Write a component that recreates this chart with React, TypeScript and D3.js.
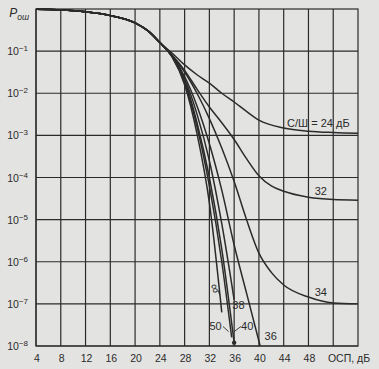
import * as d3 from 'd3';

interface Pt {
  osp: number;
  p: number;
}

// common start of all curves (ОСП, дБ -> Pош)
const COMMON: [number, number][] = [
  [4, 0.98],
  [8, 0.95],
  [12, 0.86],
  [16, 0.7],
  [20, 0.47],
  [22, 0.31],
  [24, 0.16],
];

const SNR_LABELS = ['24', '32', '34', '36', '38', '40', '50', '∞'];

const TAILS: [number, number][][] = [
  // 24 dB
  [[26, 0.089], [28, 0.047], [30, 0.0275], [32, 0.0174], [34, 0.01], [36, 0.0062], [38, 0.0037], [40, 0.0023], [44, 0.0015], [48, 0.00126], [52, 0.00117], [56, 0.00112]],
  // 32 dB
  [[26, 0.08], [28, 0.035], [30, 0.0125], [32, 0.0047], [34, 0.002], [36, 0.0008], [38, 0.00028], [40, 0.00011], [42, 6.3e-5], [44, 4.7e-5], [48, 3.4e-5], [52, 3e-5], [56, 2.9e-5]],
  // 34 dB
  [[26, 0.078], [28, 0.032], [30, 0.01], [32, 0.0025], [34, 0.0005], [36, 8e-5], [38, 1e-5], [40, 1.6e-6], [42, 5.6e-7], [44, 2.8e-7], [48, 1.45e-7], [52, 1.05e-7], [56, 1e-7]],
  // 36 dB
  [[26, 0.076], [28, 0.025], [30, 0.005], [32, 6.3e-4], [34, 5e-5], [36, 2.5e-6], [38, 1.8e-7], [40.2, 1e-8]],
  // 38 dB
  [[26, 0.075], [28, 0.022], [30, 0.0032], [32, 2.5e-4], [34, 8e-6], [36, 1.25e-7]],
  // 40 dB
  [[26, 0.074], [28, 0.02], [30, 0.002], [32, 1e-4], [34, 2e-6], [36, 1.2e-8]],
  // 50 dB
  [[26, 0.073], [28, 0.018], [30, 0.0016], [32, 6.3e-5], [34, 1e-6], [35.6, 1.6e-8]],
  // infinity
  [[26, 0.072], [28, 0.016], [30, 0.0011], [32, 2.5e-5], [34, 6.3e-8]],
];

const X_TICKS = [4, 8, 12, 16, 20, 24, 28, 32, 36, 40, 44, 48];
const Y_EXPONENTS = [-1, -2, -3, -4, -5, -6, -7, -8];

// curve labels, anchored in data units
const LABELS: { text: string; osp: number; p: number }[] = [
  { text: 'С/Ш = 24 дБ', osp: 49.6, p: 1.6e-3 },
  { text: '32', osp: 50, p: 3.8e-5 },
  { text: '34', osp: 50, p: 1.5e-7 },
  { text: '36', osp: 41.9, p: 1.4e-8 },
  { text: '38', osp: 36.7, p: 7.4e-8 },
  { text: '40', osp: 38.1, p: 2.4e-8 },
  { text: '50', osp: 33, p: 2.4e-8 },
];

const LEADERS: [Pt, Pt][] = [
  [{ osp: 34.2, p: 2.9e-8 }, { osp: 35.1, p: 2.2e-8 }],
  [{ osp: 37.1, p: 2.9e-8 }, { osp: 36.0, p: 2.2e-8 }],
  [{ osp: 33.4, p: 2.1e-7 }, { osp: 33.7, p: 1.6e-7 }],
];

const W = 379;
const H = 369;
const FONT = "'Liberation Sans', Arial, sans-serif";
const INK = '#2b2b2b';

export default function App() {
  const x = d3.scaleLinear().domain([4, 56]).range([36, 358]);
  const y = d3.scaleLog().domain([1e-8, 1]).range([346, 9]);

  const curves: Pt[][] = TAILS.map((tail) =>
    [...COMMON, ...tail].map(([osp, p]) => ({ osp, p }))
  );

  const line = d3
    .line<Pt>()
    .x((d) => x(d.osp))
    .y((d) => y(d.p))
    .curve(d3.curveMonotoneX);

  const end40 = curves[5][curves[5].length - 1];
  const infLabel = { osp: 32.8, p: 2.3e-7 };

  return (
    <div style={{ position: 'fixed', left: 0, top: 0, width: W, height: H, background: '#e3e3e1' }}>
      <svg width={W} height={H} style={{ display: 'block' }}>
        {/* grid */}
        <g stroke={INK} strokeWidth={1.2}>
          {X_TICKS.concat([52]).map((t) => (
            <line key={'gx' + t} x1={x(t)} x2={x(t)} y1={y(1)} y2={y(1e-8)} />
          ))}
          {Y_EXPONENTS.map((e) => (
            <line key={'gy' + e} x1={x(4)} x2={x(56)} y1={y(Math.pow(10, e))} y2={y(Math.pow(10, e))} />
          ))}
          <rect x={x(4)} y={y(1)} width={x(56) - x(4)} height={y(1e-8) - y(1)} fill="none" />
        </g>

        {/* curves */}
        <g fill="none" stroke={INK} strokeWidth={1.5}>
          {curves.map((c, i) => (
            <path key={SNR_LABELS[i]} d={line(c) || ''} />
          ))}
        </g>
        <circle cx={x(end40.osp)} cy={y(end40.p)} r={2.2} fill={INK} />

        {/* leaders */}
        <g stroke={INK} strokeWidth={0.9}>
          {LEADERS.map(([a, b], i) => (
            <line key={i} x1={x(a.osp)} y1={y(a.p)} x2={x(b.osp)} y2={y(b.p)} />
          ))}
        </g>

        {/* curve labels */}
        <g fontFamily={FONT} fontSize={11} fill={INK} textAnchor="middle">
          {LABELS.map((l) => (
            <text key={l.text} x={x(l.osp)} y={y(l.p)}>
              {l.text}
            </text>
          ))}
          <text
            x={x(infLabel.osp)}
            y={y(infLabel.p)}
            fontSize={13}
            transform={`rotate(70 ${x(infLabel.osp)} ${y(infLabel.p)})`}
            dominantBaseline="middle"
          >
            ∞
          </text>
        </g>

        {/* x axis labels */}
        <g fontFamily={FONT} fontSize={10.5} fill={INK} textAnchor="middle">
          {X_TICKS.map((t) => (
            <text key={t} x={x(t) + 1} y={362}>
              {t}
            </text>
          ))}
          <text x={349} y={362}>ОСП, дБ</text>
        </g>

        {/* y axis labels */}
        <g fontFamily={FONT} fontSize={10.5} fill={INK} textAnchor="end">
          {Y_EXPONENTS.map((e) => (
            <text key={e} x={28} y={y(Math.pow(10, e)) + 4}>
              10<tspan dy={-4} fontSize={8}>{'−' + -e}</tspan>
            </text>
          ))}
          <text x={29} y={17} fontSize={12}>
            <tspan fontStyle="italic">P</tspan>
            <tspan dy={3} fontSize={8.5} fontStyle="italic">ош</tspan>
          </text>
        </g>
      </svg>
    </div>
  );
}
